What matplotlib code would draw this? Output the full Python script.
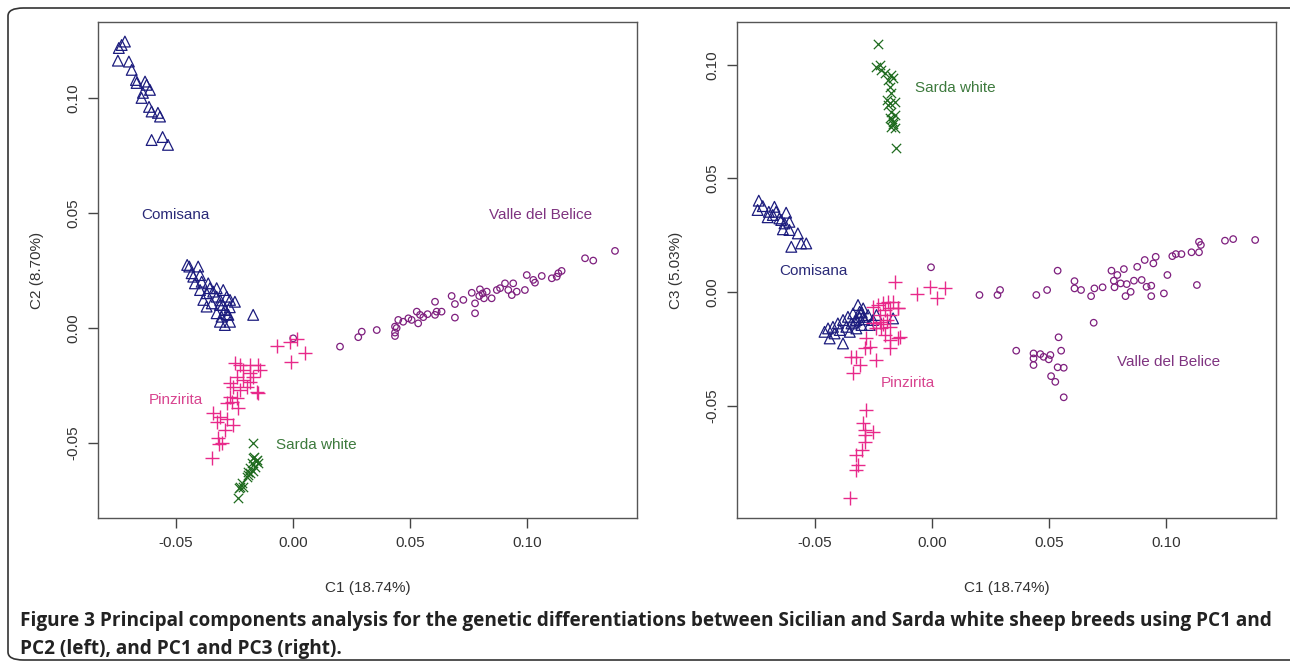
import matplotlib
matplotlib.use("Agg")
import matplotlib.pyplot as plt
from matplotlib.patches import FancyBboxPatch

# ---- PC1 vs PC2 (left panel) ----
l_comisana_x = [-0.0718, -0.0732, -0.0744, -0.0748, -0.0701, -0.0689, -0.0671, -0.0668, -0.0632, -0.0625,
                -0.0611, -0.0641, -0.0647, -0.0615, -0.0604, -0.0577, -0.0568, -0.0604, -0.0557, -0.0534,
                -0.0452, -0.0443, -0.0405, -0.0433, -0.0426, -0.0397, -0.0390, -0.0419, -0.0362, -0.0355,
                -0.0326, -0.0397, -0.0369, -0.0341, -0.0383, -0.0326, -0.0298, -0.0283, -0.0269, -0.0248,
                -0.0369, -0.0347, -0.0312, -0.0291, -0.0326, -0.0305, -0.0276, -0.0269, -0.0312, -0.0291,
                -0.0170, -0.0300, -0.0290, -0.0280, -0.0310, -0.0270]
l_comisana_y = [0.1245, 0.1230, 0.1217, 0.1162, 0.1158, 0.1122, 0.1078, 0.1065, 0.1071, 0.1057,
                0.1035, 0.1022, 0.1000, 0.0961, 0.0941, 0.0935, 0.0919, 0.0817, 0.0830, 0.0796,
                0.0274, 0.0267, 0.0267, 0.0238, 0.0223, 0.0230, 0.0201, 0.0194, 0.0194, 0.0173,
                0.0173, 0.0165, 0.0151, 0.0158, 0.0122, 0.0136, 0.0165, 0.0136, 0.0122, 0.0114,
                0.0093, 0.0107, 0.0100, 0.0078, 0.0064, 0.0049, 0.0057, 0.0027, 0.0027, 0.0013,
                0.0057, 0.0100, 0.0080, 0.0060, 0.0120, 0.0090]

l_pinzirita_x = [-0.0070, -0.0013, 0.0016, 0.0051, -0.0009, -0.0248, -0.0226, -0.0184, -0.0148, -0.0212,
                 -0.0184, -0.0241, -0.0212, -0.0184, -0.0198, -0.0155, -0.0255, -0.0226, -0.0269, -0.0241,
                 -0.0283, -0.0262, -0.0234, -0.0341, -0.0312, -0.0283, -0.0255, -0.0326, -0.0291, -0.0319,
                 -0.0305, -0.0347, -0.0269, -0.0170, -0.0141, -0.0150, -0.0316]
l_pinzirita_y = [-0.0078, -0.0060, -0.0049, -0.0107, -0.0147, -0.0153, -0.0161, -0.0161, -0.0161, -0.0183,
                 -0.0197, -0.0212, -0.0226, -0.0233, -0.0255, -0.0277, -0.0255, -0.0270, -0.0299, -0.0306,
                 -0.0327, -0.0320, -0.0349, -0.0371, -0.0386, -0.0394, -0.0422, -0.0407, -0.0443, -0.0480,
                 -0.0501, -0.0567, -0.0240, -0.0212, -0.0183, -0.0283, -0.0504]

l_sarda_x = [-0.0172, -0.0170, -0.0155, -0.0176, -0.0184, -0.0191, -0.0198, -0.0219, -0.0229, -0.0234,
             -0.0162, -0.0148, -0.0184, -0.0212, -0.0165, -0.0170, -0.0190, -0.0160, -0.0225]
l_sarda_y = [-0.0501, -0.0567, -0.0574, -0.0588, -0.0610, -0.0625, -0.0646, -0.0675, -0.0697, -0.0740,
             -0.0603, -0.0588, -0.0632, -0.0690, -0.0560, -0.0620, -0.0640, -0.0580, -0.0690]

l_valle_x = [0.0001, 0.0201, 0.0279, 0.0294, 0.0358, 0.0436, 0.0436, 0.0450, 0.0471, 0.0493,
             0.0507, 0.0529, 0.0543, 0.0557, 0.0535, 0.0607, 0.0614, 0.0635, 0.0607, 0.0678,
             0.0692, 0.0692, 0.0728, 0.0764, 0.0778, 0.0778, 0.0799, 0.0796, 0.0828, 0.0816,
             0.0849, 0.0871, 0.0885, 0.0906, 0.0920, 0.0941, 0.0935, 0.0956, 0.0991, 0.0999,
             0.1027, 0.1034, 0.1063, 0.1106, 0.1127, 0.1134, 0.1148, 0.1248, 0.1283, 0.1376,
             0.0436, 0.0443, 0.0575, 0.0810]
l_valle_y = [-0.0045, -0.0081, -0.0040, -0.0016, -0.0009, -0.0035, 0.0006, 0.0035, 0.0027, 0.0042,
             0.0035, 0.0071, 0.0057, 0.0047, 0.0020, 0.0114, 0.0071, 0.0071, 0.0057, 0.0139,
             0.0104, 0.0045, 0.0122, 0.0153, 0.0107, 0.0064, 0.0168, 0.0139, 0.0158, 0.0129,
             0.0129, 0.0165, 0.0173, 0.0194, 0.0165, 0.0194, 0.0143, 0.0158, 0.0165, 0.0230,
             0.0209, 0.0197, 0.0226, 0.0216, 0.0223, 0.0238, 0.0248, 0.0303, 0.0293, 0.0335,
             -0.0020, 0.0000, 0.0060, 0.0150]

# ---- PC1 vs PC3 (right panel) ----
r_comisana_x = [-0.0740, -0.0745, -0.0723, -0.0697, -0.0673, -0.0666, -0.0702, -0.0680, -0.0623, -0.0644,
                -0.0630, -0.0609, -0.0637, -0.0609, -0.0573, -0.0601, -0.0559, -0.0537, -0.0652,
                -0.0459, -0.0444, -0.0437, -0.0423, -0.0416, -0.0402, -0.0394, -0.0380, -0.0380, -0.0366,
                -0.0359, -0.0344, -0.0337, -0.0323, -0.0316, -0.0309, -0.0294, -0.0294, -0.0273, -0.0266,
                -0.0252, -0.0237, -0.0166, -0.0351, -0.0323, -0.0301, -0.0310, -0.0290, -0.0330, -0.0300]
r_comisana_y = [0.0402, 0.0361, 0.0378, 0.0353, 0.0375, 0.0353, 0.0329, 0.0339, 0.0349, 0.0317,
                0.0302, 0.0309, 0.0276, 0.0273, 0.0258, 0.0199, 0.0214, 0.0214, 0.0324,
                -0.0175, -0.0160, -0.0204, -0.0153, -0.0182, -0.0138, -0.0167, -0.0226, -0.0123, -0.0153,
                -0.0109, -0.0138, -0.0094, -0.0123, -0.0057, -0.0087, -0.0109, -0.0072, -0.0101, -0.0145,
                -0.0123, -0.0101, -0.0116, -0.0175, -0.0160, -0.0145, -0.0110, -0.0120, -0.0130, -0.0090]

r_pinzirita_x = [-0.0252, -0.0230, -0.0209, -0.0187, -0.0166, -0.0144, -0.0180, -0.0194, -0.0223, -0.0252,
                 -0.0216, -0.0180, -0.0201, -0.0180, -0.0144, -0.0180, -0.0280, -0.0266, -0.0287, -0.0237,
                 -0.0323, -0.0344, -0.0309, -0.0337, -0.0280, -0.0294, -0.0287, -0.0252, -0.0287, -0.0287,
                 -0.0301, -0.0323, -0.0316, -0.0323, -0.0351, -0.0159, -0.0066, -0.0009, 0.0056, 0.0020,
                 -0.0144, -0.0137, -0.0200, -0.0220, -0.0180, -0.0240, -0.0210]
r_pinzirita_y = [-0.0065, -0.0057, -0.0050, -0.0043, -0.0043, -0.0072, -0.0101, -0.0123, -0.0131, -0.0138,
                 -0.0160, -0.0153, -0.0189, -0.0211, -0.0204, -0.0248, -0.0204, -0.0241, -0.0248, -0.0299,
                 -0.0285, -0.0285, -0.0321, -0.0358, -0.0519, -0.0578, -0.0607, -0.0615, -0.0629, -0.0659,
                 -0.0695, -0.0717, -0.0761, -0.0783, -0.0908, 0.0045, -0.0010, 0.0023, 0.0019, -0.0028,
                 -0.0069, -0.0197, -0.0080, -0.0100, -0.0070, -0.0160, -0.0140]

r_sarda_x = [-0.0230, -0.0237, -0.0223, -0.0216, -0.0201, -0.0173, -0.0166, -0.0187, -0.0180, -0.0173,
             -0.0194, -0.0159, -0.0187, -0.0173, -0.0159, -0.0180, -0.0166, -0.0173, -0.0159, -0.0154,
             -0.0170, -0.0165, -0.0180]
r_sarda_y = [0.1091, 0.0991, 0.0999, 0.0977, 0.0962, 0.0955, 0.0940, 0.0933, 0.0903, 0.0874,
             0.0845, 0.0837, 0.0823, 0.0793, 0.0779, 0.0764, 0.0749, 0.0727, 0.0720, 0.0632,
             0.0760, 0.0740, 0.0830]

r_valle_x = [0.0203, 0.0280, 0.0291, 0.0446, 0.0492, 0.0537, 0.0609, 0.0609, 0.0637, 0.0680,
             0.0694, 0.0729, 0.0767, 0.0777, 0.0780, 0.0792, 0.0806, 0.0820, 0.0832, 0.0827,
             0.0849, 0.0863, 0.0877, 0.0896, 0.0909, 0.0917, 0.0937, 0.0937, 0.0946, 0.0956,
             0.0991, 0.1006, 0.1027, 0.1042, 0.1066, 0.1109, 0.1132, 0.1141, 0.1141, 0.1149,
             0.1252, 0.1287, 0.1381, -0.0004,
             0.0691, 0.0541, 0.0360, 0.0434, 0.0463, 0.0434, 0.0477, 0.0506, 0.0499, 0.0552,
             0.0434, 0.0537, 0.0563, 0.0509, 0.0527, 0.0563]
r_valle_y = [-0.0013, -0.0013, 0.0009, -0.0013, 0.0009, 0.0094, 0.0048, 0.0016, 0.0009, -0.0018,
             0.0016, 0.0021, 0.0094, 0.0050, 0.0021, 0.0075, 0.0038, 0.0101, 0.0035, -0.0018,
             0.0001, 0.0050, 0.0111, 0.0053, 0.0141, 0.0023, 0.0028, -0.0018, 0.0126, 0.0155,
             -0.0006, 0.0075, 0.0158, 0.0167, 0.0167, 0.0175, 0.0031, 0.0175, 0.0221, 0.0207,
             0.0226, 0.0233, 0.0229, 0.0109,
             -0.0135, -0.0199, -0.0258, -0.0270, -0.0273, -0.0292, -0.0285, -0.0277, -0.0296, -0.0258,
             -0.0321, -0.0331, -0.0333, -0.0370, -0.0395, -0.0463]

breeds = ["Comisana", "Pinzirita", "Sarda white", "Valle del Belice"]
l_label_pos = [(-0.0504, 0.0491), (-0.0500, -0.0313), (0.0098, -0.0509), (0.1056, 0.0491)]
r_label_pos = [(-0.0506, 0.0092), (-0.0103, -0.0400), (0.0099, 0.0898), (0.1012, -0.0308)]

colors = {"Comisana": "#1c1c7e", "Pinzirita": "#e8298a", "Sarda white": "#1f6b1f", "Valle del Belice": "#7e1f7e"}
text_colors = {"Comisana": "#2a2a78", "Pinzirita": "#d8448f", "Sarda white": "#3d7a3d", "Valle del Belice": "#7f3380"}

plt.rcParams['font.family'] = ['Liberation Sans', 'DejaVu Sans']

fig = plt.figure(figsize=(12.9, 6.66), dpi=100)

# rounded frame around the figure
frame = FancyBboxPatch((8 / 1290, 6 / 666), 1300 / 1290, 652 / 666,
                       boxstyle="round,pad=0,rounding_size=0.012",
                       transform=fig.transFigure, fill=False, ec="#333333", lw=1.2)
fig.patches.append(frame)

ax1 = fig.add_axes([98 / 1290, 1 - 518 / 666, 539 / 1290, 496 / 666])
ax2 = fig.add_axes([737 / 1290, 1 - 518 / 666, 539 / 1290, 496 / 666])


def draw(ax, data, labels, ylabel, ylim, yticks):
    (cx, cy), (px, py), (sx, sy), (vx, vy) = data
    ax.scatter(vx, vy, marker='o', s=22, facecolors='none', edgecolors=colors["Valle del Belice"], linewidths=0.9)
    ax.scatter(cx, cy, marker='^', s=60, facecolors='none', edgecolors=colors["Comisana"], linewidths=0.9)
    ax.scatter(px, py, marker='+', s=90, c=colors["Pinzirita"], linewidths=1.0)
    ax.scatter(sx, sy, marker='x', s=45, c=colors["Sarda white"], linewidths=0.9)
    for name, (tx, ty) in zip(breeds, labels):
        ax.text(tx, ty, name, color=text_colors[name], fontsize=11, ha='center', va='center')
    ax.set_xlim(-0.0833, 0.147)
    ax.set_ylim(*ylim)
    ax.set_xticks([-0.05, 0.0, 0.05, 0.10])
    ax.set_xticklabels(["-0.05", "0.00", "0.05", "0.10"])
    ax.set_yticks(yticks)
    ax.set_yticklabels(["%.2f" % t for t in yticks], rotation=90, va='center')
    ax.tick_params(length=7, width=1, colors="#444444", labelsize=11, labelcolor="#333333", pad=6)
    for sp in ax.spines.values():
        sp.set_color("#555555")
        sp.set_linewidth(1)
    ax.set_xlabel("C1 (18.74%)", fontsize=11, color="#333333", labelpad=22)
    ax.set_ylabel(ylabel, fontsize=11, color="#333333", labelpad=16)


draw(ax1, [(l_comisana_x, l_comisana_y), (l_pinzirita_x, l_pinzirita_y),
           (l_sarda_x, l_sarda_y), (l_valle_x, l_valle_y)],
     l_label_pos, "C2 (8.70%)", (-0.0826, 0.133), [-0.05, 0.0, 0.05, 0.10])
draw(ax2, [(r_comisana_x, r_comisana_y), (r_pinzirita_x, r_pinzirita_y),
           (r_sarda_x, r_sarda_y), (r_valle_x, r_valle_y)],
     r_label_pos, "C3 (5.03%)", (-0.0994, 0.1188), [-0.05, 0.0, 0.05, 0.10])

cap_font = ['Open Sans', 'DejaVu Sans']
fig.text(20 / 1290, 1 - 621 / 666,
         "Figure 3 Principal components analysis for the genetic differentiations between Sicilian and Sarda white sheep breeds using PC1 and",
         fontsize=13.7, fontweight='bold', family=cap_font, color="#222222", va='center', ha='left')
fig.text(20 / 1290, 1 - 649 / 666, "PC2 (left), and PC1 and PC3 (right).",
         fontsize=13.7, fontweight='bold', family=cap_font, color="#222222", va='center', ha='left')

fig.savefig("out.png", dpi=100)
